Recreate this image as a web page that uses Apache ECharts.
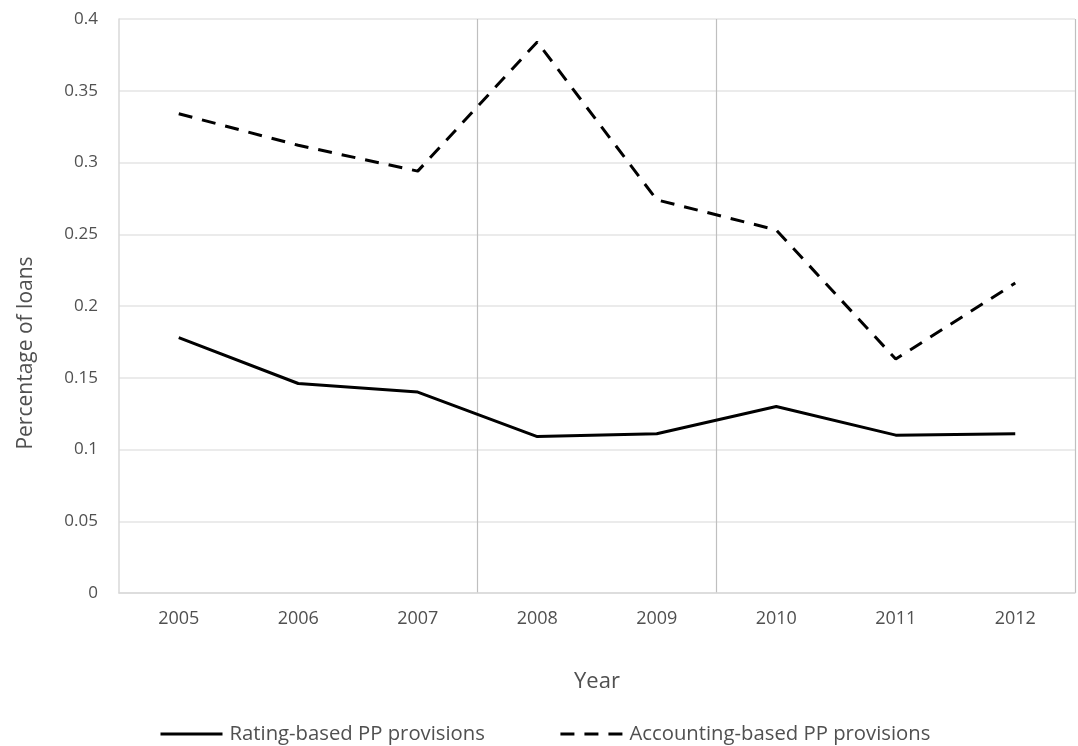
<!DOCTYPE html>
<html>
<head>
<meta charset="utf-8">
<script src="https://cdn.jsdelivr.net/npm/echarts@6/dist/echarts.min.js"></script>
<style>
  html, body { margin: 0; padding: 0; background: #ffffff; }
  #chart { width: 1078px; height: 746px; }
</style>
</head>
<body>
<div id="chart"></div>
<script>
// Years on the category axis
const years = ['2005', '2006', '2007', '2008', '2009', '2010', '2011', '2012'];

// Provisions as a percentage of loans
const ratingBased = [0.178, 0.146, 0.140, 0.109, 0.111, 0.130, 0.110, 0.111];
const accountingBased = [0.334, 0.312, 0.294, 0.384, 0.274, 0.253, 0.163, 0.216];

// Value-axis tick labels, from 0 up to 0.4
const yTickLabels = ['0', '0.05', '0.1', '0.15', '0.2', '0.25', '0.3', '0.35', '0.4'];

// Category boundaries that get a vertical divider (before 2008 and before 2010)
const dividerTicks = [3, 5];

const seriesNames = ['Rating-based PP provisions', 'Accounting-based PP provisions'];

const FONT = '"Open Sans", "Noto Sans", sans-serif';
const TEXT = '#505050';

const chart = echarts.init(document.getElementById('chart'), null, { renderer: 'canvas' });

chart.setOption({
  animation: false,
  backgroundColor: '#ffffff',
  grid: { left: 119, right: 3, top: 19, bottom: 153, containLabel: false },
  legend: {
    top: 719,
    left: 154,
    itemWidth: 62,
    itemHeight: 22,
    itemGap: 74,
    itemStyle: { color: 'transparent', borderWidth: 0 },
    lineStyle: { width: 3 },
    textStyle: { fontFamily: FONT, fontSize: 20.3, color: TEXT, padding: [0, 0, 0, 2] },
    data: seriesNames
  },
  xAxis: {
    type: 'category',
    data: years,
    boundaryGap: true,
    name: 'Year',
    nameLocation: 'middle',
    nameGap: 78,
    nameTextStyle: { fontFamily: FONT, fontSize: 22, color: TEXT },
    axisLine: { show: true, lineStyle: { color: '#d9d9d9', width: 1.5 } },
    axisTick: { show: false },
    axisLabel: { fontFamily: FONT, fontSize: 18, color: TEXT, margin: 17 },
    splitLine: {
      show: true,
      interval: function (index) { return dividerTicks.indexOf(index) !== -1; },
      lineStyle: { color: '#bfbfbf', width: 1.2 }
    }
  },
  yAxis: {
    type: 'value',
    min: 0,
    max: 0.4,
    interval: 0.05,
    axisLine: { show: true, lineStyle: { color: '#d9d9d9', width: 1.5 } },
    axisTick: { show: false },
    axisLabel: {
      fontFamily: FONT, fontSize: 17, color: TEXT, margin: 21,
      formatter: function (v) { return yTickLabels[Math.round(v / 0.05)]; }
    },
    splitLine: { show: true, lineStyle: { color: '#e4e4e4', width: 1.5 } }
  },
  graphic: [{
    type: 'text',
    x: 26,
    y: 353,
    rotation: Math.PI / 2,
    style: {
      text: 'Percentage of loans',
      font: '21px ' + FONT,
      fill: TEXT,
      align: 'center',
      verticalAlign: 'middle'
    }
  }],
  series: [
    {
      name: seriesNames[0],
      type: 'line',
      data: ratingBased,
      symbol: 'none',
      lineStyle: { color: '#000000', width: 3, type: 'solid' },
      itemStyle: { color: '#000000' }
    },
    {
      name: seriesNames[1],
      type: 'line',
      data: accountingBased,
      symbol: 'none',
      lineStyle: { color: '#000000', width: 3, type: [14, 10] },
      itemStyle: { color: '#000000' }
    }
  ]
});
</script>
</body>
</html>
